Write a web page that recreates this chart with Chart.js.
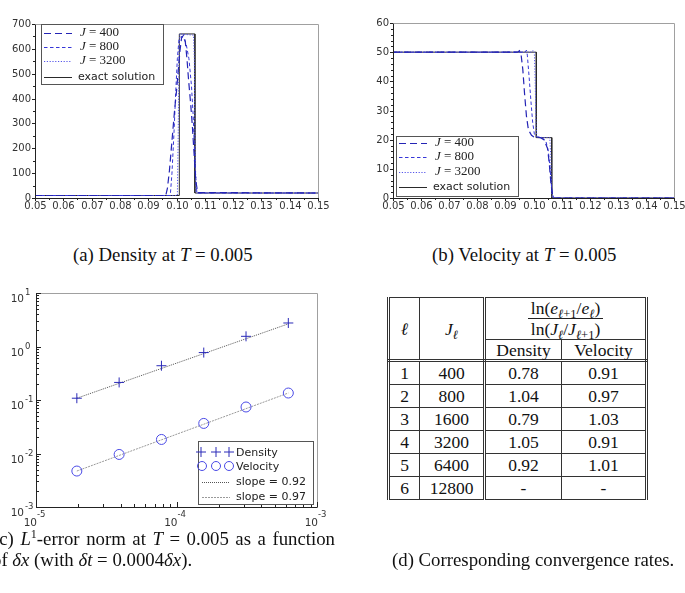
<!DOCTYPE html>
<html>
<head>
<meta charset="utf-8">
<script src="https://cdn.jsdelivr.net/npm/chart.js@4.4.1/dist/chart.umd.min.js"></script>
<style>
  body { margin: 0; width: 685px; height: 593px; position: relative; overflow: hidden; background: #fff;
         font-family: "Liberation Serif", "DejaVu Serif", serif; color: #111; }
  canvas { position: absolute; }
  .cap { position: absolute; font-size: 18.8px; line-height: 20px; white-space: nowrap; }
  .just { text-align: justify; text-align-last: justify; white-space: normal; }
  #tbl { position: absolute; left: 387px; top: 297px; border-collapse: collapse; table-layout: fixed;
         font-size: 17.5px; text-align: center; }
  #tbl td { border: 1px solid #333; padding: 0; line-height: 18px; }
  #tbl td.first { border-left: 3px double #333; }
  #tbl td.jcol { border-right: 3px double #333; }
  #tbl td.last { border-right: 3px double #333; }
  #tbl tr.hdr2 td, #tbl td.rs { border-bottom: 3px double #333; }
  #tbl tr.row td { height: 22px; }
  sub { font-size: 12.5px; line-height: 0; vertical-align: -4px; }
  .num { display: inline-block; border-bottom: 1px solid #222; padding: 0 3px 1px; }
  .den { padding-top: 1px; }
</style>
</head>
<body>

<canvas id="chartDensity" width="340" height="220" style="left:0;top:0"></canvas>
<canvas id="chartVelocity" width="345" height="220" style="left:340px;top:0"></canvas>
<canvas id="chartError" width="340" height="250" style="left:0;top:280px"></canvas>

<div class="cap" style="left:73px;top:245px">(a) Density at <i>T</i> = 0.005</div>
<div class="cap" style="left:432px;top:245px">(b) Velocity at <i>T</i> = 0.005</div>
<div class="cap just" style="left:-7px;top:529px;width:342px">(c) <i>L</i><sup style="font-size:12px;line-height:0">1</sup>-error norm at <i>T</i> = 0.005 as a function</div>
<div class="cap" style="left:-8px;top:550px">of <i>δx</i> (with <i>δt</i> = 0.0004<i>δx</i>).</div>
<div class="cap" style="left:392px;top:550px">(d) Corresponding convergence rates.</div>

<table id="tbl">
  <colgroup><col style="width:31px"><col style="width:65px"><col style="width:77px"><col style="width:85px"></colgroup>
  <tr style="height:42px">
    <td rowspan="2" class="first rs"><i>ℓ</i></td>
    <td rowspan="2" class="jcol rs"><i>J</i><sub><i>ℓ</i></sub></td>
    <td colspan="2" class="last">
      <div class="num">ln(<i>e</i><sub><i>ℓ</i>+1</sub>/<i>e</i><sub><i>ℓ</i></sub>)</div>
      <div class="den">ln(<i>J</i><sub><i>ℓ</i></sub>/<i>J</i><sub><i>ℓ</i>+1</sub>)</div>
    </td>
  </tr>
  <tr class="hdr2" style="height:21px"><td>Density</td><td class="last">Velocity</td></tr>
</table>

<script>
// (a) density at T = 0.005
const xExact = [0.05, 0.1010, 0.1010, 0.1065, 0.1065, 0.15];
const rhoExact = [10, 10, 660, 660, 20, 20];
const xRho400 = [0.05, 0.0962, 0.0968, 0.0975, 0.0981, 0.0987, 0.0993, 0.1000, 0.1006, 0.1012, 0.1018, 0.1025, 0.1031, 0.1037, 0.1043, 0.1050, 0.1056, 0.1062, 0.1068, 0.1075, 0.15];
const rho400 = [10, 10, 40, 110, 190, 270, 350, 430, 510, 590, 645, 655, 630, 560, 470, 380, 290, 180, 70, 22, 20];
const xRho800 = [0.05, 0.0978, 0.0984, 0.0991, 0.0997, 0.1003, 0.1009, 0.1016, 0.1025, 0.1034, 0.1044, 0.1053, 0.1059, 0.1066, 0.1072, 0.15];
const rho800 = [10, 10, 100, 260, 420, 560, 640, 650, 645, 620, 560, 450, 330, 120, 20, 20];
const xRho3200 = [0.05, 0.1003, 0.1006, 0.1009, 0.1012, 0.1060, 0.1063, 0.1066, 0.1069, 0.15];
const rho3200 = [10, 10, 250, 600, 660, 655, 560, 200, 20, 20];

// (b) velocity at T = 0.005
const uExact = [50, 50, 20.7, 20.7, 0, 0];
const xU400 = [0.05, 0.0943, 0.0950, 0.0956, 0.0962, 0.0968, 0.0975, 0.0981, 0.0987, 0.0993, 0.1000, 0.1025, 0.1037, 0.1050, 0.1056, 0.1062, 0.1068, 0.1075, 0.15];
const u400 = [50, 50, 50.5, 49, 44, 36, 28, 24, 22.5, 21.5, 21, 20.7, 20, 17, 12, 5, 1, 0, 0];
const xU800 = [0.05, 0.0969, 0.0975, 0.0978, 0.0984, 0.0991, 0.0997, 0.1003, 0.1009, 0.1030, 0.1044, 0.1053, 0.1059, 0.1066, 0.1072, 0.15];
const u800 = [50, 50, 50.7, 49, 42, 33, 26, 22, 21, 20.7, 19.5, 16, 10, 2, 0, 0];
const xU3200 = [0.05, 0.0995, 0.0998, 0.1003, 0.1006, 0.1009, 0.1012, 0.1058, 0.1061, 0.1064, 0.1067, 0.15];
const u3200 = [50, 50, 50.6, 50, 40, 25, 20.8, 20.7, 15, 3, 0, 0];

// (c) L1 error vs dx
const dxValues = [1.953e-5, 3.906e-5, 7.813e-5, 1.563e-4, 3.125e-4, 6.25e-4];
const errDensity = [0.108, 0.213, 0.437, 0.77, 1.55, 2.75];
const errVelocity = [0.0047, 0.0096, 0.0183, 0.0365, 0.074, 0.135];
const fitX = [1.953e-5, 6.25e-4];
const fitDensity = [0.108, 2.65];
const fitVelocity = [0.0047, 0.135];

// (d) table
const levels = [1, 2, 3, 4, 5, 6];
const jValues = [400, 800, 1600, 3200, 6400, 12800];
const rateDensity = ['0.78', '1.04', '0.79', '1.05', '0.92', '-'];
const rateVelocity = ['0.91', '0.97', '1.03', '0.91', '1.01', '-'];

const C400 = '#2424b5', C800 = '#3636d8', C3200 = '#5555ea', CEX = '#2a2a2a';
const D400 = [7, 4], D800 = [3.5, 2.5], D3200 = [1.2, 1.6];

function pts(xs, ys) { return xs.map((x, i) => ({ x: x, y: ys[i] })); }

function lineSet(label, xs, ys, color, dash, w) {
  return { label: label, data: pts(xs, ys), borderColor: color, borderDash: dash || [],
           borderWidth: w || 1, pointRadius: 0, showLine: true, fill: false, tension: 0 };
}

function crisp(v) { return Math.round(v) + 0.5; }

function drawFrame(ctx, a) {
  ctx.lineWidth = 1;
  ctx.strokeStyle = '#a0a0a0';
  ctx.beginPath();
  ctx.moveTo(crisp(a.left), crisp(a.top)); ctx.lineTo(crisp(a.right), crisp(a.top));
  ctx.lineTo(crisp(a.right), crisp(a.bottom));
  ctx.stroke();
  ctx.strokeStyle = '#222';
  ctx.beginPath();
  ctx.moveTo(crisp(a.left), crisp(a.top)); ctx.lineTo(crisp(a.left), crisp(a.bottom));
  ctx.lineTo(crisp(a.right), crisp(a.bottom));
  ctx.stroke();
}

function mathLabel(ctx, x, y, val) {
  ctx.textAlign = 'left'; ctx.textBaseline = 'middle'; ctx.fillStyle = '#222';
  ctx.font = 'italic 13px "Liberation Serif"';
  ctx.fillText('J', x, y);
  const w = ctx.measureText('J').width;
  ctx.font = '13px "Liberation Serif"';
  ctx.fillText(' = ' + val, x + w, y);
}

function legendLine(ctx, x1, x2, y, color, dash, w) {
  ctx.save();
  ctx.strokeStyle = color; ctx.lineWidth = w || 1; ctx.setLineDash(dash);
  ctx.beginPath(); ctx.moveTo(x1, crisp(y)); ctx.lineTo(x2, crisp(y)); ctx.stroke();
  ctx.restore();
}

function profileLegend(ctx, bx, by, bw, bh, rows) {
  ctx.fillStyle = '#fff'; ctx.fillRect(bx, by, bw, bh);
  ctx.strokeStyle = '#555'; ctx.lineWidth = 1;
  ctx.strokeRect(crisp(bx), crisp(by), Math.round(bw), Math.round(bh));
  const lx1 = bx + 3, lx2 = bx + 31, tx = bx + 39;
  legendLine(ctx, lx1, lx2, rows[0], C400, D400, 1.2);
  mathLabel(ctx, tx, rows[0], '400');
  legendLine(ctx, lx1, lx2, rows[1], C800, D800, 1);
  mathLabel(ctx, tx, rows[1], '800');
  legendLine(ctx, lx1, lx2, rows[2], C3200, D3200, 1);
  mathLabel(ctx, tx, rows[2], '3200');
  legendLine(ctx, lx1, lx2, rows[3], CEX, [], 1);
  ctx.font = '11px "DejaVu Sans"'; ctx.fillStyle = '#222'; ctx.textAlign = 'left'; ctx.textBaseline = 'middle';
  ctx.fillText('exact solution', tx - 2, rows[3]);
}

function linearAxes(cfg) {
  return {
    id: 'axesBox',
    afterDraw(chart) {
      const ctx = chart.ctx, a = chart.chartArea, xs = chart.scales.x, ys = chart.scales.y;
      ctx.save();
      drawFrame(ctx, a);
      ctx.strokeStyle = '#222'; ctx.fillStyle = '#333';
      ctx.font = '10px "DejaVu Sans"';
      // x ticks
      ctx.textAlign = 'center'; ctx.textBaseline = 'middle';
      for (let i = 0; i <= 20; i++) {
        const v = 0.05 + 0.005 * i;
        const px = crisp(xs.getPixelForValue(v));
        const len = i % 2 === 0 ? 3 : 2;
        ctx.beginPath(); ctx.moveTo(px, a.bottom); ctx.lineTo(px, a.bottom + len); ctx.stroke();
        if (i % 2 === 0) ctx.fillText(v.toFixed(2), px, a.bottom + 8);
      }
      // y ticks
      ctx.textAlign = 'right';
      const nMin = Math.round(cfg.yMax / cfg.yMinor);
      for (let i = 0; i <= nMin; i++) {
        const v = i * cfg.yMinor;
        const py = crisp(ys.getPixelForValue(v));
        const major = Math.abs(v / cfg.yStep - Math.round(v / cfg.yStep)) < 1e-6;
        ctx.beginPath(); ctx.moveTo(a.left, py); ctx.lineTo(a.left - (major ? 3 : 2), py); ctx.stroke();
        if (major) ctx.fillText(String(Math.round(v)), a.left - 4, py);
      }
      cfg.legend(ctx, a);
      ctx.restore();
    }
  };
}

function profileChart(id, sets, yMax, pad, axesCfg) {
  new Chart(document.getElementById(id), {
    type: 'line',
    data: { datasets: sets },
    options: {
      responsive: false, animation: false,
      layout: { padding: pad },
      scales: {
        x: { type: 'linear', min: 0.05, max: 0.15, display: false },
        y: { type: 'linear', min: 0, max: yMax, display: false }
      },
      plugins: { legend: { display: false }, tooltip: { enabled: false } }
    },
    plugins: [linearAxes(axesCfg)]
  });
}

profileChart('chartDensity', [
  lineSet('J = 400', xRho400, rho400, C400, D400, 1.2),
  lineSet('J = 800', xRho800, rho800, C800, D800),
  lineSet('J = 3200', xRho3200, rho3200, C3200, D3200),
  lineSet('exact solution', xExact, rhoExact, CEX, [])
], 700, { left: 35, right: 22, top: 24, bottom: 22 }, {
  yMax: 700, yStep: 100, yMinor: 50,
  legend: (ctx, a) => profileLegend(ctx, 41, 24, 122, 60, [33, 47, 61, 77])
});

profileChart('chartVelocity', [
  lineSet('J = 400', xU400, u400, C400, D400, 1.2),
  lineSet('J = 800', xU800, u800, C800, D800),
  lineSet('J = 3200', xU3200, u3200, C3200, D3200),
  lineSet('exact solution', xExact, uExact, CEX, [])
], 60, { left: 53, right: 11, top: 23, bottom: 22 }, {
  yMax: 60, yStep: 10, yMinor: 2,
  legend: (ctx, a) => profileLegend(ctx, 56, 136, 122, 60, [143, 157, 172, 187])
});

// log-log error plot
function drawCross(ctx, x, y, r) {
  ctx.beginPath();
  ctx.moveTo(x - r, y); ctx.lineTo(x + r, y);
  ctx.moveTo(x, y - r); ctx.lineTo(x, y + r);
  ctx.stroke();
}

const logAxes = {
  id: 'logAxes',
  afterDraw(chart) {
    const ctx = chart.ctx, a = chart.chartArea, xs = chart.scales.x, ys = chart.scales.y;
    ctx.save();
    drawFrame(ctx, a);
    ctx.strokeStyle = '#222'; ctx.fillStyle = '#333';
    for (let e = -5; e <= -3; e++) {
      for (let m = 1; m <= 9; m++) {
        const v = m * Math.pow(10, e);
        if (v > 1.0001e-3) break;
        const px = crisp(xs.getPixelForValue(v));
        const len = m === 1 ? 5 : 3;
        ctx.beginPath(); ctx.moveTo(px, a.bottom); ctx.lineTo(px, a.bottom - len); ctx.stroke();
      }
      const px = xs.getPixelForValue(Math.pow(10, e));
      ctx.textBaseline = 'alphabetic';
      ctx.font = '10.5px "DejaVu Sans"'; ctx.textAlign = 'right';
      ctx.fillText('10', px + 1, a.bottom + 19);
      ctx.font = '8.5px "DejaVu Sans"'; ctx.textAlign = 'left';
      ctx.fillText(String(e), px + 1, a.bottom + 10);
    }
    for (let e = -3; e <= 1; e++) {
      for (let m = 1; m <= 9; m++) {
        const v = m * Math.pow(10, e);
        if (v > 10.0001) break;
        const py = crisp(ys.getPixelForValue(v));
        const len = m === 1 ? 5 : 3;
        ctx.beginPath(); ctx.moveTo(a.left, py); ctx.lineTo(a.left + len, py); ctx.stroke();
      }
      const py = ys.getPixelForValue(Math.pow(10, e));
      ctx.textBaseline = 'alphabetic';
      ctx.font = '10.5px "DejaVu Sans"'; ctx.textAlign = 'right';
      ctx.fillText('10', a.left - 12, py + 9);
      ctx.font = '8.5px "DejaVu Sans"'; ctx.textAlign = 'left';
      ctx.fillText(String(e), a.left - 11, py + 2);
    }
    // legend
    const bx = 198, by = 161, bw = 115, bh = 63;
    ctx.fillStyle = '#fff'; ctx.fillRect(bx, by, bw, bh);
    ctx.strokeStyle = '#555'; ctx.strokeRect(crisp(bx), crisp(by), bw, bh);
    ctx.strokeStyle = '#2a2ab8'; ctx.lineWidth = 1;
    [201, 216, 229].forEach(x => drawCross(ctx, x, 172, 5));
    ctx.strokeStyle = '#4a4ae6';
    [202, 216, 229].forEach(x => { ctx.beginPath(); ctx.arc(x, 186, 4.5, 0, Math.PI * 2); ctx.stroke(); });
    legendLine(ctx, 202, 230, 201.5, '#555', [1, 1], 1);
    legendLine(ctx, 202, 230, 216.5, '#999', [2, 1], 1);
    ctx.fillStyle = '#222'; ctx.font = '11px "DejaVu Sans"'; ctx.textAlign = 'left'; ctx.textBaseline = 'middle';
    ctx.fillText('Density', 236, 173);
    ctx.fillText('Velocity', 236, 187);
    ctx.fillText('slope = 0.92', 236, 202);
    ctx.fillText('slope = 0.97', 236, 217);
    ctx.restore();
  }
};

new Chart(document.getElementById('chartError'), {
  type: 'line',
  data: {
    datasets: [
      { label: 'Density', data: pts(dxValues, errDensity), showLine: false, pointStyle: 'cross',
        pointRadius: 5, pointBorderColor: '#2a2ab8', pointBorderWidth: 1, borderColor: '#2a2ab8' },
      { label: 'Velocity', data: pts(dxValues, errVelocity), showLine: false, pointStyle: 'circle',
        pointRadius: 5, pointBorderColor: '#4a4ae6', pointBackgroundColor: 'rgba(0,0,0,0)', pointBorderWidth: 1, borderColor: '#4a4ae6' },
      lineSet('slope = 0.92', fitX, fitDensity, '#555', [1, 1]),
      lineSet('slope = 0.97', fitX, fitVelocity, '#999', [2, 1])
    ]
  },
  options: {
    responsive: false, animation: false,
    layout: { padding: { left: 36, right: 23, top: 13, bottom: 23 } },
    scales: {
      x: { type: 'logarithmic', min: 1e-5, max: 1e-3, display: false },
      y: { type: 'logarithmic', min: 1e-3, max: 10, display: false }
    },
    plugins: { legend: { display: false }, tooltip: { enabled: false } }
  },
  plugins: [logAxes]
});

// table body
const tbl = document.getElementById('tbl');
levels.forEach((l, i) => {
  const tr = document.createElement('tr');
  tr.className = 'row';
  tr.innerHTML = '<td class="first">' + l + '</td><td class="jcol">' + jValues[i] + '</td><td>' +
    rateDensity[i] + '</td><td class="last">' + rateVelocity[i] + '</td>';
  tbl.appendChild(tr);
});
</script>
</body>
</html>
